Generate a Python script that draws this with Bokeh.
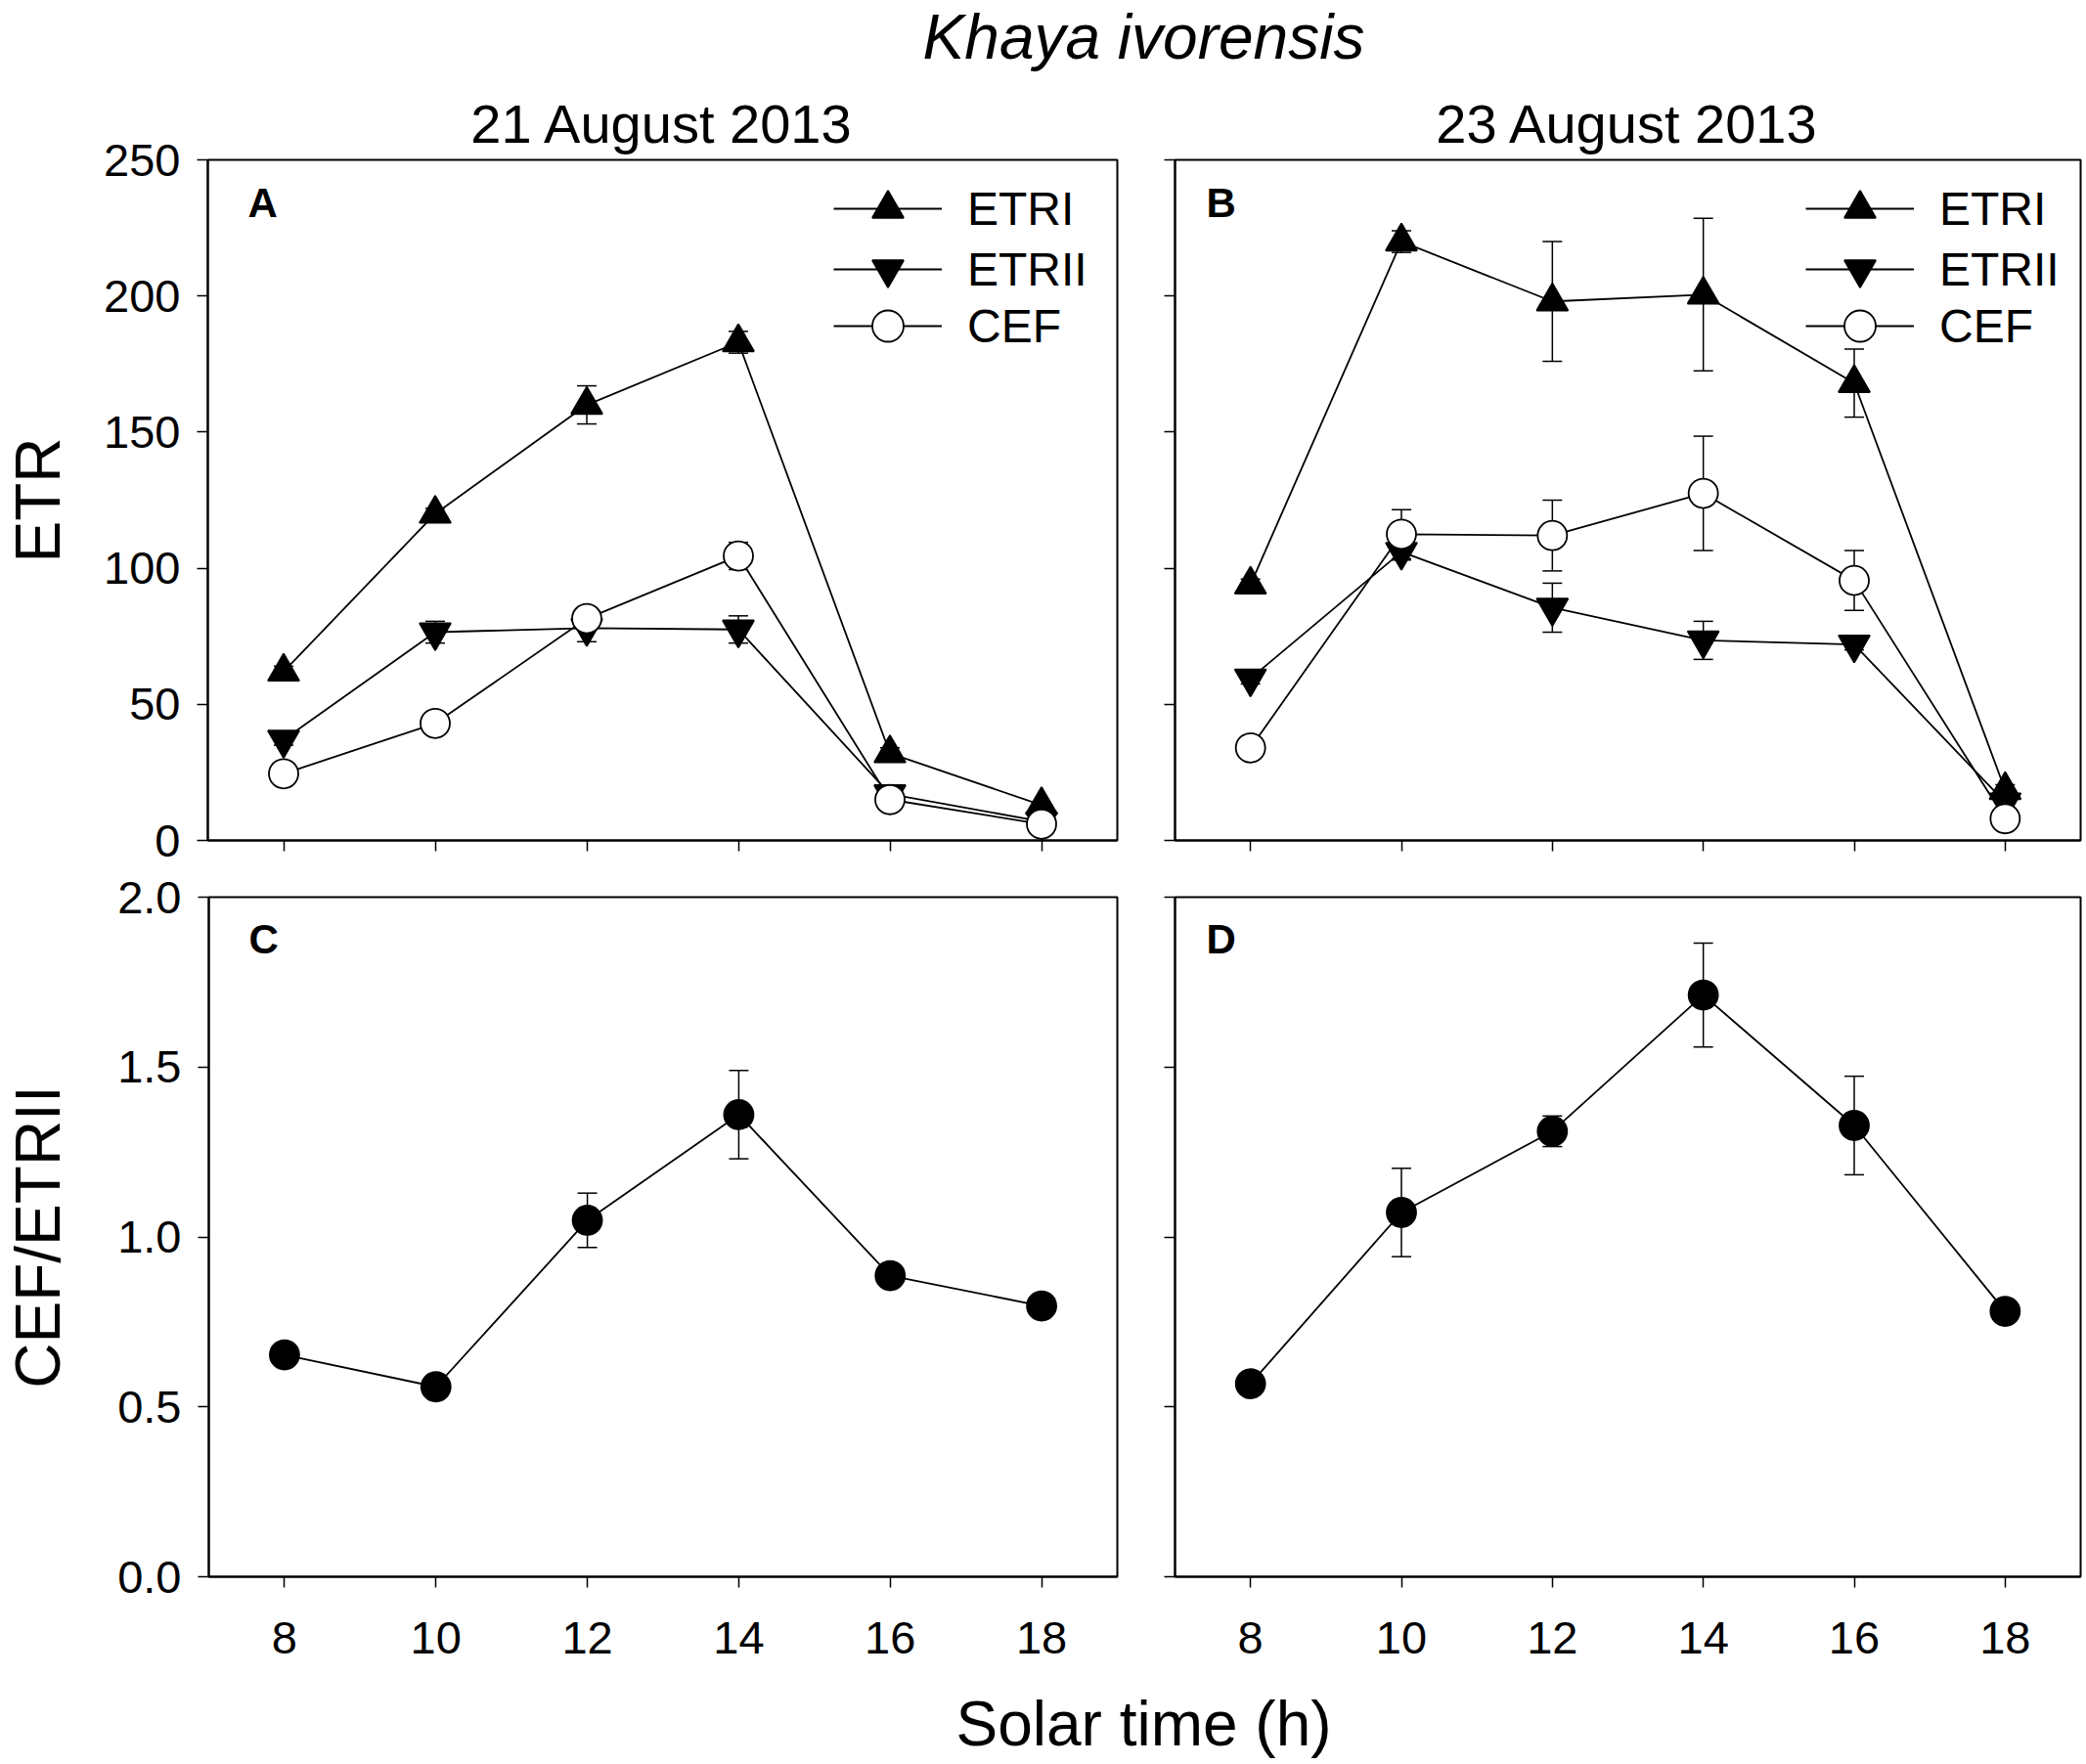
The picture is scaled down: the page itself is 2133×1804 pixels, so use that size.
from bokeh.plotting import figure
from bokeh.models import (ColumnDataSource, Whisker, TeeHead, Label, Legend,
                          LegendItem, Range1d, FixedTicker, PrintfTickFormatter,
                          CustomJSTickFormatter)
from bokeh.layouts import column, row
from bokeh.embed import file_html
from bokeh.resources import INLINE

FONT = "Liberation Sans"

# solar time (h)
hours = [8, 10, 12, 14, 16, 18]

# 21 August 2013 (panel A / C)
etri_21 = [62, 120, 160, 183, 32, 13]
etri_21_err = [2, 2, 7, 4, 2, 1]
etrii_21 = [37, 76.5, 78, 77.5, 17, 7]
etrii_21_err = [2, 4, 5, 5, 3, 1]
cef_21 = [24.5, 43, 81.5, 104.5, 15, 6]
cef_21_err = [1, 2, 2, 5, 2, 1]
ratio_21 = [0.653, 0.559, 1.049, 1.36, 0.886, 0.797]
ratio_21_err = [0.01, 0.01, 0.08, 0.13, 0.03, 0.01]

# 23 August 2013 (panel B / D)
etri_23 = [94, 220, 198, 200.5, 168, 18.5]
etri_23_err = [2, 4, 22, 28, 12.5, 2]
etrii_23 = [59.5, 106, 85.5, 73.5, 72, 14]
etrii_23_err = [2, 3, 9, 7, 2, 2]
cef_23 = [34, 112.5, 112, 127.5, 95.5, 8]
cef_23_err = [2, 9, 13, 21, 11, 1]
ratio_23 = [0.568, 1.072, 1.311, 1.712, 1.328, 0.781]
ratio_23_err = [0.01, 0.13, 0.045, 0.153, 0.145, 0.01]

etr_ticks = [0, 50, 100, 150, 200, 250]
ratio_ticks = [0, 0.5, 1.0, 1.5, 2.0]

NO_LABELS = "return ''"


def make_panel(width, height, left, right, top, bottom, y_range, y_ticks,
               show_x_labels, show_y_labels, title=None, y_label=None, y_label_standoff=0):
    p = figure(width=width, height=height, x_range=Range1d(7, 19), y_range=y_range,
               min_border_left=left, min_border_right=right,
               min_border_top=top, min_border_bottom=bottom,
               toolbar_location=None, output_backend="svg", title=title)
    p.xgrid.grid_line_color = None
    p.ygrid.grid_line_color = None
    p.outline_line_color = "black"
    p.outline_line_width = 2
    p.outline_line_alpha = 1

    p.xaxis.ticker = FixedTicker(ticks=hours)
    p.yaxis.ticker = FixedTicker(ticks=y_ticks)
    for ax in (p.xaxis[0], p.yaxis[0]):
        ax.axis_line_width = 2
        ax.axis_line_color = "black"
        ax.major_tick_out = 11
        ax.major_tick_in = 0
        ax.minor_tick_out = 0
        ax.minor_tick_in = 0
        ax.major_tick_line_width = 1.5
        ax.major_tick_line_color = "black"
        ax.major_label_text_font = FONT
        ax.major_label_text_font_size = "47px"
        ax.major_label_text_color = "black"
        ax.axis_label_text_font = FONT
        ax.axis_label_text_font_style = "normal"
        ax.axis_label_text_font_size = "64px"
        ax.axis_label_text_color = "black"

    if show_x_labels:
        p.xaxis.major_label_standoff = 35
    else:
        p.xaxis.formatter = CustomJSTickFormatter(code=NO_LABELS)
        p.xaxis.major_label_standoff = 0
    if show_y_labels:
        p.yaxis.major_label_standoff = 17
        if y_ticks[-1] < 10:
            p.yaxis.formatter = PrintfTickFormatter(format="%.1f")
    else:
        p.yaxis.formatter = CustomJSTickFormatter(code=NO_LABELS)
        p.yaxis.major_label_standoff = 0
    if y_label:
        p.yaxis.axis_label = y_label
        p.yaxis.axis_label_standoff = y_label_standoff

    if title is not None:
        p.title.text_font = FONT
        p.title.text_font_size = "56px"
        p.title.text_font_style = "normal"
        p.title.text_color = "black"
        p.title.align = "center"
        p.title.standoff = 11
    return p


def add_series(p, values, errors, specs):
    # specs: list of (marker, fill, size)
    sources = []
    for y, e in zip(values, errors):
        src = ColumnDataSource(dict(x=hours, y=y,
                                    lo=[v - d for v, d in zip(y, e)],
                                    hi=[v + d for v, d in zip(y, e)]))
        sources.append(src)
        p.add_layout(Whisker(source=src, base="x", lower="lo", upper="hi",
                             level="underlay", line_color="black", line_width=1.5,
                             upper_head=TeeHead(size=20, line_width=1.5, line_color="black"),
                             lower_head=TeeHead(size=20, line_width=1.5, line_color="black")))
    lines = [p.line("x", "y", source=s, line_color="black", line_width=1.8) for s in sources]
    marks = []
    for s, (marker, fill, size) in zip(sources, specs):
        marks.append(p.scatter("x", "y", source=s, marker=marker, size=size,
                               fill_color=fill, line_color="black", line_width=1.8))
    return lines, marks


def add_legend(p, lines, marks, labels, x):
    # one legend per row so that the rows sit closer than the glyph box
    for lab, ln, mk, yb in zip(labels, lines, marks, [606, 544, 486]):
        leg = Legend(items=[LegendItem(label=lab, renderers=[ln, mk])], location=(x, yb),
                     glyph_width=111, glyph_height=80, padding=0, margin=0,
                     label_standoff=26, label_text_font=FONT, label_text_font_size="48px",
                     label_text_color="black", border_line_color=None,
                     background_fill_alpha=0)
        p.add_layout(leg)


def add_letter(p, letter, x):
    p.add_layout(Label(x=x, y=676, x_units="screen", y_units="screen", text=letter,
                       text_font=FONT, text_font_style="bold", text_font_size="42px",
                       text_align="left", text_baseline="top", text_color="black"))


etr_specs = [("triangle", "black", 32), ("inverted_triangle", "black", 32), ("circle", "white", 30)]
etr_labels = ["ETRI", "ETRII", "CEF"]

# panel A
pA = make_panel(1171, 810, 211, 29, 85, 29, Range1d(0, 250), etr_ticks, False, True,
                title="21 August 2013", y_label="ETR", y_label_standoff=28)
ln, mk = add_series(pA, [etri_21, etrii_21, cef_21], [etri_21_err, etrii_21_err, cef_21_err], etr_specs)
add_legend(pA, ln, mk, etr_labels, 640)
add_letter(pA, "A", 41)

# panel B
pB = make_panel(958, 810, 30, 2, 85, 29, Range1d(0, 250), etr_ticks, False, False,
                title="23 August 2013")
ln, mk = add_series(pB, [etri_23, etrii_23, cef_23], [etri_23_err, etrii_23_err, cef_23_err], etr_specs)
add_legend(pB, ln, mk, etr_labels, 645)
add_letter(pB, "B", 32)

# panel C
pC = make_panel(1171, 820, 211, 29, 29, 96, Range1d(0, 2), ratio_ticks, True, True,
                y_label="CEF/ETRII", y_label_standoff=42)
add_series(pC, [ratio_21], [ratio_21_err], [("circle", "black", 30)])
add_letter(pC, "C", 41)

# panel D
pD = make_panel(958, 820, 30, 2, 29, 96, Range1d(0, 2), ratio_ticks, True, False)
add_series(pD, [ratio_23], [ratio_23_err], [("circle", "black", 30)])
add_letter(pD, "D", 32)


def text_strip(height, text, y, baseline, size, style):
    p = figure(width=2129, height=height, x_range=Range1d(0, 1), y_range=Range1d(0, 1),
               min_border_left=211, min_border_right=2, min_border_top=0, min_border_bottom=0,
               x_axis_location=None, y_axis_location=None, toolbar_location=None,
               output_backend="svg", title=None)
    p.outline_line_color = None
    p.xgrid.grid_line_color = None
    p.ygrid.grid_line_color = None
    p.add_layout(Label(x=0.5, y=y, text=text, text_font=FONT, text_font_size=size,
                       text_font_style=style, text_align="center", text_baseline=baseline,
                       text_color="black"))
    return p


top = text_strip(78, "Khaya ivorensis", 0.987, "top", "64px", "italic")
bottom = text_strip(92, "Solar time (h)", 0.41, "middle", "64px", "normal")

layout = column(top, row(pA, pB), row(pC, pD), bottom)

open("out.html", "w").write(file_html(layout, INLINE))
